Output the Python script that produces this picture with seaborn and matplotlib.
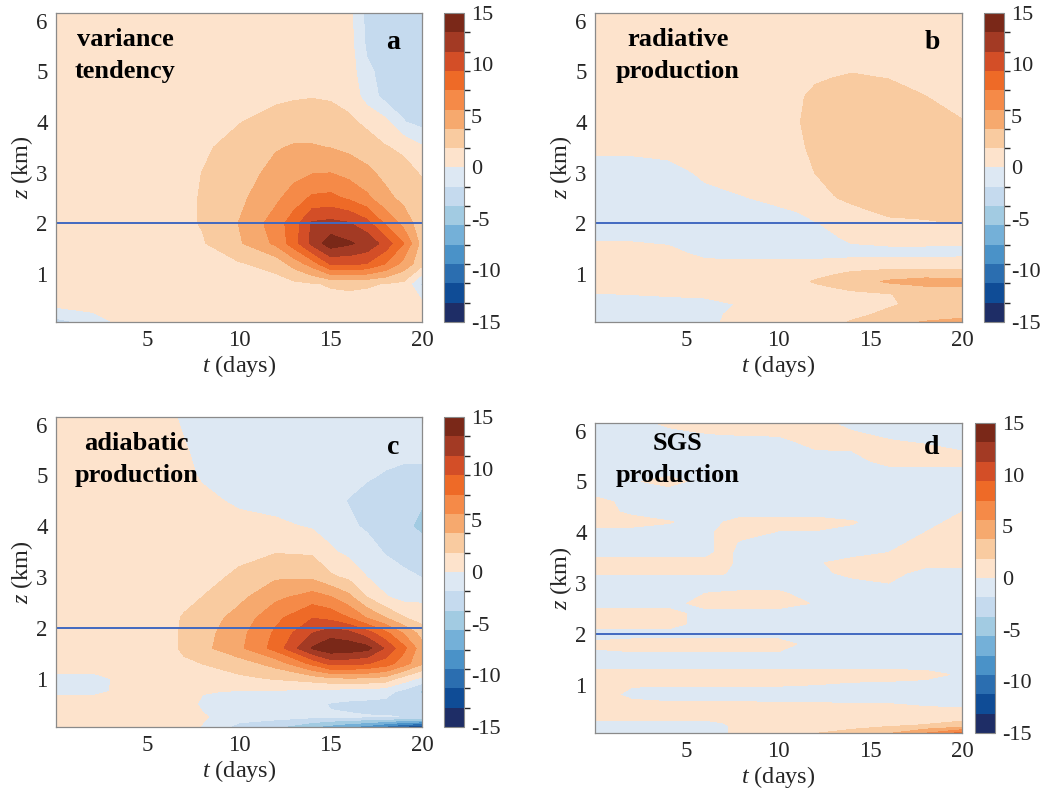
import numpy as np
import matplotlib
matplotlib.use("Agg")
import matplotlib.pyplot as plt
from matplotlib.colors import ListedColormap, BoundaryNorm
import seaborn as sns

# colour bands of the -15..15 scale, bottom to top
BAND_COLORS = ["#1E2D66", "#0F4C96", "#2B6EB0", "#4A92C8", "#74B0D8", "#A2CBE2",
               "#C5DAEE", "#DDE8F3", "#FDE3CC", "#F9CBA0", "#F6A96E", "#F58A48",
               "#EE6A27", "#D34E27", "#A33A24", "#7A2818"]
LEVELS = np.linspace(-15, 15, 17)
CBAR_TICKS = [-15, -10, -5, 0, 5, 10, 15]
BL_TOP = 2.0  # km, blue reference line

# ---- (a) variance tendency ----
T_A = [0, 2, 4, 6, 8, 10, 12, 13, 14, 15, 16, 17, 18, 19, 20]
Z_A = [0.05, 0.4, 0.8, 1.2, 1.6, 2.0, 2.5, 3.0, 3.5, 4.0, 4.5, 5.0, 5.5, 6.15]
V_A = [
    [-2.5, -1.2, 1, 1, 1, 1, 1, 1, 1, 1, 1, 1, 1, 1, 1],
    [0.5, 1, 1, 1, 1, 1, 1, 1, 1, 1.2, 1.2, 1.2, 1.2, 1, 0.5],
    [1, 1, 1, 1, 1, 1, 1.2, 1.4, 1.7, 2.05, 2.2, 2.05, 1.8, 1.4, -2.2],
    [1, 1, 1, 1, 1.2, 1.7, 2.5, 4.5, 6.5, 9.6, 9.8, 9.3, 7.5, 5.0, 2.5],
    [1, 1, 1, 1, 1.7, 3.5, 6.0, 8.5, 11.8, 14.2, 13.4, 12.6, 10.5, 7.5, 3.0],
    [1, 1, 1, 1, 2.0, 3.8, 6.5, 8.5, 11.5, 11.8, 11.4, 10.0, 7.2, 5.0, 2.5],
    [1, 1, 1, 1, 2.0, 3.3, 5.2, 6.5, 7.8, 8.0, 7.2, 6.0, 4.3, 3.2, 2.5],
    [1, 1, 1, 1, 1.9, 2.9, 4.3, 5.0, 5.5, 5.6, 5.0, 4.2, 3.2, 2.5, 1.7],
    [1, 1, 1, 1, 1.6, 2.5, 3.6, 3.9, 3.9, 3.7, 3.3, 2.7, 2.0, 1.5, 0.2],
    [1, 1, 1, 1, 1.2, 1.8, 2.6, 2.8, 2.8, 2.6, 2.2, 1.5, 0.5, -1.8, -2.5],
    [1, 1, 1, 1, 1, 1, 1.5, 1.7, 1.8, 1.7, 1.3, -0.8, -2.5, -2.5, -2.5],
    [1, 1, 1, 1, 1, 1, 1, 1, 1, 1, 1.0, -1.5, -2.5, -2.5, -2.5],
    [1, 1, 1, 1, 1, 1, 1, 1, 1, 1, 0.8, -2.2, -2.5, -2.5, -2.5],
    [1, 1, 1, 1, 1, 1, 1, 1, 1, 1, 0.6, -2.5, -2.5, -2.5, -2.5],
]

# ---- (b) radiative production ----
T_B = [0, 2, 4, 6, 8, 10, 11, 12, 13, 14, 16, 18, 20]
Z_B = [0.05, 0.2, 0.4, 0.6, 0.85, 1.1, 1.4, 1.7, 2.0, 2.5, 3.0, 3.5, 4.0, 4.5, 5.0, 5.5, 6.15]
V_B = [
    [-1, -1, -1, -0.5, 0.7, 1, 1, 1.1, 1.5, 2.0, 3.0, 3.9, 4.5],
    [-1, -1, -1, -0.6, 0.6, 1, 1, 1, 1.1, 1.5, 2.2, 2.6, 3.0],
    [-1, -1, -1, -0.8, 0.2, 1, 1, 1, 1.1, 1.3, 1.7, 2.3, 2.5],
    [-0.1, 0.05, 0.3, 0.5, 0.9, 1, 1.1, 1.2, 1.3, 1.5, 1.8, 2.5, 2.6],
    [1, 1, 1, 1, 1, 1.2, 1.5, 2.0, 2.4, 2.9, 4.0, 4.5, 4.4],
    [1, 1, 1, 1, 1, 1.0, 1.0, 1.2, 1.4, 1.6, 1.75, 1.8, 1.8],
    [1.0, 1.0, 0.6, -0.5, -0.7, -0.7, -0.7, -0.7, -0.7, -0.6, -0.6, -0.6, -0.5],
    [-0.3, -0.3, -0.5, -0.8, -1, -1, -1, -0.6, -0.2, 0.3, 0.6, 0.6, 0.4],
    [-1, -1, -1, -1, -1, -0.8, -0.5, -0.1, 0.4, 0.9, 1.7, 1.8, 1.9],
    [-1, -1, -1, -0.6, -0.1, 0.4, 0.6, 1.2, 1.8, 2.2, 2.4, 2.3, 2.2],
    [-1, -1, -0.8, 0.4, 0.8, 1.0, 1.2, 1.9, 2.4, 2.7, 2.9, 2.8, 2.6],
    [0.5, 0.5, 0.8, 1, 1, 1.2, 1.5, 2.3, 2.8, 3.0, 3.0, 2.8, 2.5],
    [1, 1, 1, 1, 1, 1.2, 1.7, 2.6, 2.9, 3.0, 2.8, 2.4, 1.95],
    [1, 1, 1, 1, 1, 1.1, 1.5, 2.4, 2.7, 2.8, 2.5, 1.9, 1.3],
    [1, 1, 1, 1, 1, 1, 1.1, 1.3, 1.6, 1.8, 1.6, 1.3, 1.0],
    [1, 1, 1, 1, 1, 1, 1, 1, 1, 1, 1, 1, 1],
    [1, 1, 1, 1, 1, 1, 1, 1, 1, 1, 1, 1, 1],
]

# ---- (c) adiabatic production ----
T_C = [0, 2, 4, 6, 7, 8, 10, 12, 14, 15, 16, 17, 18, 19, 20]
Z_C = [0.05, 0.25, 0.5, 0.75, 1.0, 1.3, 1.6, 1.9, 2.2, 2.6, 3.0, 3.5, 4.0, 4.5, 5.0, 5.5, 6.15]
V_C = [
    [1, 1, 1, 1, 0.6, -0.1, -2.5, -3.5, -5.5, -6.5, -7.5, -8.5, -10, -12, -13],
    [1, 1, 1, 1, 0.9, 0.2, -1.0, -1.2, -1.5, -1.7, -1.7, -1.8, -1.8, -1.9, -2.0],
    [1, 1, 1, 1, 0.8, -0.3, -0.8, -1.0, -1.3, -2.0, -2.2, -2.3, -2.4, -2.6, -2.8],
    [-0.4, -0.5, 0.6, 0.9, 0.8, 0.1, -0.1, -0.2, -0.5, -0.7, -0.9, -1.0, -1.2, -2.4, -4.0],
    [-0.5, -0.6, 0.6, 0.8, 0.8, 1.0, 1.5, 2.0, 2.7, 3.3, 3.5, 3.4, 3.0, 1.0, -0.5],
    [1, 1, 1, 0.8, 1.5, 1.9, 2.8, 4.5, 8.0, 10.0, 10.0, 9.5, 8.5, 6.5, 4.0],
    [1, 1, 1, 1.0, 2.3, 3.2, 5.2, 8.2, 13.3, 14.6, 14.3, 13.8, 11.0, 8.0, 4.5],
    [1, 1, 1, 1.0, 2.3, 3.0, 5.0, 7.8, 11.2, 12.3, 11.8, 10.2, 8.0, 5.5, 3.0],
    [1, 1, 1, 1.0, 2.1, 2.8, 4.4, 7.0, 9.3, 8.8, 7.5, 5.5, 3.8, 2.0, 1.0],
    [1, 1, 1, 1, 1.2, 1.9, 3.3, 5.2, 6.5, 5.8, 4.3, 1.9, 0.2, -0.6, -0.4],
    [1, 1, 1, 1, 1, 1.3, 2.2, 3.5, 3.4, 2.2, 1.5, 0.0, -1.0, -1.5, -1.9],
    [1, 1, 1, 1, 1, 1.1, 1.4, 1.75, 1.6, 0.3, -0.5, -1.2, -2.0, -2.5, -2.8],
    [1, 1, 1, 1, 1, 1, 0.8, 0.4, -0.2, -0.8, -1.6, -2.1, -2.6, -3.3, -4.2],
    [1, 1, 1, 1, 1, 0.6, -0.4, -0.7, -1.1, -1.4, -1.95, -2.4, -2.6, -3.0, -3.6],
    [1, 1, 1, 1, 0.6, -0.3, -0.8, -0.9, -1.0, -1.2, -1.4, -1.7, -2.0, -2.2, -2.2],
    [1, 1, 1, 1, 0.2, -0.6, -0.8, -0.8, -0.8, -0.9, -1.0, -1.2, -1.4, -1.5, -1.5],
    [1, 1, 1, 0.6, -0.4, -0.8, -0.8, -0.8, -0.8, -0.8, -0.8, -0.8, -0.8, -0.8, -0.8],
]

# ---- (d) SGS production ----
T_D = [0, 2, 4, 6, 7, 8, 10, 12, 14, 16, 18, 20]
Z_D = [0.05, 0.2, 0.4, 0.6, 0.8, 1.0, 1.2, 1.4, 1.6, 1.8, 2.0, 2.2, 2.4, 2.6, 2.8, 3.0,
       3.2, 3.4, 3.6, 3.8, 4.0, 4.2, 4.4, 4.6, 4.8, 5.0, 5.2, 5.4, 5.6, 5.8, 6.0, 6.15]
V_D = [
    [-0.6, -0.6, -0.6, -0.6, -0.2, 0.6, 1.2, 1.8, 2.5, 3.5, 5.5, 8.0],
    [-0.6, -0.6, -0.6, -0.6, -0.2, 0.6, 0.8, 1.0, 1.2, 1.6, 2.0, 2.5],
    [0.6, 0.6, 0.6, 0.6, 0.6, 0.6, 0.6, 0.6, 0.6, 0.6, 0.6, 1.0],
    [0.6, 0.4, 0.3, 0.3, 0.3, 0.3, 0.2, 0.2, 0.1, 0.1, -0.1, -0.4],
    [0.6, -0.3, -0.6, -0.6, -0.6, -0.6, -0.6, -0.6, -0.6, -0.6, -0.6, -0.6],
    [0.1, 0.1, 0.1, 0.1, 0.1, 0.1, 0.1, 0.0, -0.2, -0.3, -0.4, -0.5],
    [0.6, 0.6, 0.6, 0.6, 0.6, 0.6, 0.6, 0.6, 0.6, 0.6, 0.4, -0.2],
    [-0.6, -0.6, -0.6, -0.6, -0.6, -0.6, -0.6, -0.6, -0.6, -0.6, -0.6, -0.6],
    [-0.3, -0.2, -0.2, -0.2, -0.2, -0.2, -0.2, -0.6, -0.6, -0.6, -0.6, -0.6],
    [0.3, 0.6, 0.6, 0.6, 0.6, 0.6, 0.6, -0.6, -0.6, -0.6, -0.6, -0.6],
    [-0.6, -0.6, -0.6, -0.6, -0.6, -0.6, -0.6, -0.6, -0.6, -0.6, -0.6, -0.6],
    [0.6, 0.6, 0.6, -0.6, -0.6, -0.6, -0.6, -0.6, -0.6, -0.6, -0.6, -0.6],
    [0.6, 0.6, 0.6, -0.6, -0.6, -0.6, -0.6, -0.6, -0.6, -0.6, -0.6, -0.6],
    [-0.6, -0.6, -0.6, 0.6, 0.6, 0.6, 0.6, -0.1, -0.6, -0.6, -0.6, -0.6],
    [-0.6, -0.6, -0.6, 0.0, 0.1, 0.2, 0.2, -0.6, -0.6, -0.6, -0.6, -0.6],
    [-0.6, -0.6, -0.6, -0.6, -0.6, -0.6, -0.6, -0.6, -0.6, 0.0, -0.6, -0.6],
    [0.1, 0.1, 0.1, 0.1, 0.1, -0.6, -0.6, -0.6, 0.6, 0.6, -0.6, -0.6],
    [0.6, 0.6, 0.6, 0.6, 0.6, -0.6, -0.6, -0.2, 0.6, 0.6, 0.6, 0.6],
    [-0.6, -0.6, -0.6, -0.6, 0.6, -0.6, -0.6, -0.6, -0.6, 0.0, 0.6, 0.6],
    [-0.6, -0.6, -0.6, -0.6, 0.6, -0.2, -0.6, -0.6, -0.6, -0.6, 0.6, 0.6],
    [-0.6, -0.6, -0.6, -0.6, 0.6, 0.6, -0.1, -0.1, -0.3, -0.6, 0.0, 0.6],
    [0.6, 0.6, 0.1, -0.6, 0.0, 0.6, 0.6, 0.6, 0.1, -0.6, -0.6, 0.6],
    [0.6, -0.3, -0.6, -0.6, -0.6, -0.6, -0.6, -0.6, -0.6, -0.6, -0.6, 0.0],
    [0.6, -0.6, -0.6, -0.6, -0.6, -0.6, -0.6, -0.6, -0.6, -0.6, -0.6, -0.6],
    [-0.6, -0.6, -0.6, -0.6, -0.6, -0.6, -0.6, -0.6, -0.6, -0.6, -0.6, -0.6],
    [-0.6, -0.2, 0.6, -0.6, -0.6, -0.6, -0.6, -0.6, -0.6, -0.6, -0.6, -0.6],
    [-0.6, -0.6, -0.6, -0.6, -0.6, -0.6, -0.6, -0.6, -0.6, -0.6, -0.6, -0.6],
    [-0.6, -0.6, -0.6, -0.6, -0.6, -0.6, -0.6, -0.6, -0.6, 0.6, 0.6, 0.6],
    [-0.6, -0.6, -0.6, -0.6, -0.6, -0.6, -0.6, -0.1, 0.0, 0.6, 0.6, 0.0],
    [-0.6, -0.6, -0.6, -0.6, -0.6, -0.6, -0.4, 0.6, 0.6, 0.1, -0.3, -0.6],
    [-0.6, -0.6, -0.2, 0.2, 0.4, 0.5, 0.5, 0.6, 0.0, -0.6, -0.6, -0.6],
    [-0.6, -0.6, 0.3, 0.6, 0.6, 0.6, 0.6, 0.6, -0.6, -0.6, -0.6, -0.6],
]

TITLES = [["variance", "tendency"], ["radiative", "production"],
          ["adiabatic", "production"], ["SGS", "production"]]
LETTERS = ["a", "b", "c", "d"]

sns.set_theme(style="white")
plt.rcParams["font.family"] = ["Liberation Serif", "DejaVu Serif"]
plt.rcParams["mathtext.fontset"] = "custom"
plt.rcParams["mathtext.rm"] = "Liberation Serif"
plt.rcParams["mathtext.it"] = "Liberation Serif:italic"
plt.rcParams["axes.unicode_minus"] = False

cmap = ListedColormap(sns.color_palette(BAND_COLORS))
norm = BoundaryNorm(LEVELS, cmap.N)

W, H = 1041, 798
fig = plt.figure(figsize=(W / 100, H / 100), dpi=100)


def px_rect(x0, y0, x1, y1):
    return [x0 / W, 1 - y1 / H, (x1 - x0) / W, (y1 - y0) / H]


# pixel boxes: (axes box, colorbar box)
layout = [
    ((56, 13, 422, 322), (444, 13, 464, 322)),
    ((595, 13, 962, 322), (984, 13, 1004, 322)),
    ((56, 417, 422, 727), (444, 417, 464, 727)),
    ((595, 423, 962, 733), (975, 423, 995, 733)),
]
title_pos = [(0.19, 0.915, 0.81), (0.226, 0.915, 0.81),
             (0.22, 0.915, 0.81), (0.226, 0.935, 0.83)]
letter_pos = [(0.92, 0.905), (0.918, 0.905), (0.92, 0.9), (0.918, 0.92)]

panels = [(T_A, Z_A, V_A), (T_B, Z_B, V_B), (T_C, Z_C, V_C), (T_D, Z_D, V_D)]
edge = "#8a8a8a"
txt = "#262626"

for i, (t, z, v) in enumerate(panels):
    abox, cbox = layout[i]
    ax = fig.add_axes(px_rect(*abox))
    cax = fig.add_axes(px_rect(*cbox))
    cs = ax.contourf(t, z, np.array(v), levels=LEVELS, cmap=cmap, norm=norm)
    ax.axhline(BL_TOP, color="#4169C0", lw=1.4)
    ax.set_xlim(0, 20)
    ax.set_ylim(0.05, 6.15)
    ax.set_xticks([5, 10, 15, 20])
    ax.set_yticks([1, 2, 3, 4, 5, 6])
    ax.tick_params(direction="in", length=4, width=0.8, top=True, right=True,
                   labelsize=16.5, colors=edge, labelcolor=txt, pad=6)
    for s in ax.spines.values():
        s.set_color(edge)
        s.set_linewidth(0.9)
    ax.set_xlabel(r"$t$ (days)", fontsize=17.5, color=txt, labelpad=1)
    ax.set_ylabel(r"$z$ (km)", fontsize=17.5, color=txt, labelpad=1)

    tx, ty1, ty2 = title_pos[i]
    for line, yy in zip(TITLES[i], (ty1, ty2)):
        ax.text(tx, yy, line, transform=ax.transAxes, ha="center", va="center",
                fontsize=19, fontweight="bold", color="black")
    lx, ly = letter_pos[i]
    ax.text(lx, ly, LETTERS[i], transform=ax.transAxes, ha="center", va="center",
            fontsize=20, fontweight="bold", color="black")

    cb = fig.colorbar(cs, cax=cax, ticks=CBAR_TICKS)
    cb.outline.set_edgecolor(edge)
    cb.outline.set_linewidth(0.8)
    cax.minorticks_off()
    cax.tick_params(direction="in", length=3, width=0.8, labelsize=16,
                    colors=edge, labelcolor=txt, pad=5)
    cax.set_yticklabels([str(k) for k in CBAR_TICKS])

fig.savefig("out.png", dpi=100)
